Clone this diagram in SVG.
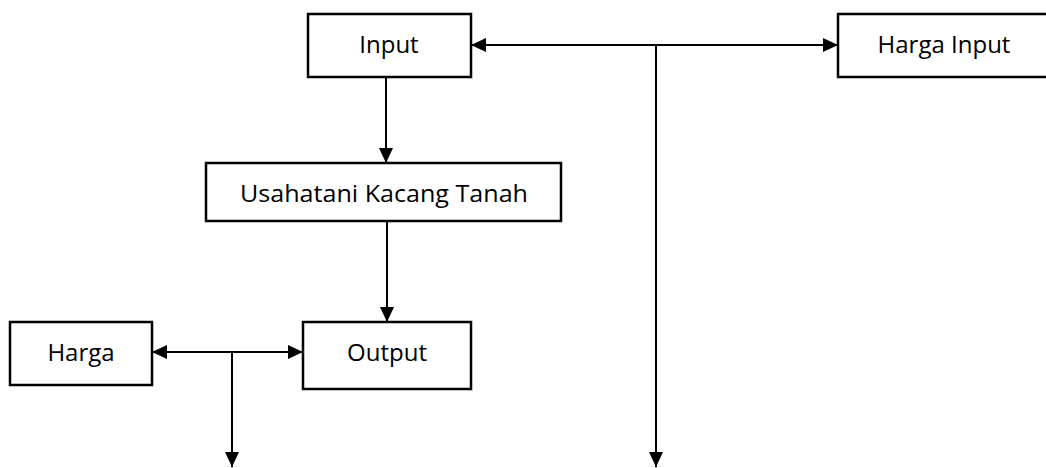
<svg xmlns="http://www.w3.org/2000/svg" width="1046" height="468" viewBox="0 0 1046 468">
<defs>
<marker id="ah" markerUnits="userSpaceOnUse" markerWidth="16" markerHeight="16" viewBox="0 0 16 16" refX="15" refY="8" orient="auto-start-reverse">
<path d="M0,1 L15,8 L0,15 Z" fill="#000"/>
</marker>
<style>
.box{fill:#fff;stroke:#000;stroke-width:2.5}
.lbl{font-family:"Open Sans","Liberation Sans",sans-serif;font-size:24px;fill:#000;text-anchor:middle}
.ln{fill:none;stroke:#000;stroke-width:2}
</style>
</defs>
<g id="connectors">
<line class="ln" x1="471" y1="45" x2="838" y2="45" marker-start="url(#ah)" marker-end="url(#ah)"/>
<line class="ln" x1="656" y1="45" x2="656" y2="467" marker-end="url(#ah)"/>
<line class="ln" x1="386" y1="77" x2="386" y2="163" marker-end="url(#ah)"/>
<line class="ln" x1="387" y1="221" x2="387" y2="322" marker-end="url(#ah)"/>
<line class="ln" x1="152" y1="352" x2="303" y2="352" marker-start="url(#ah)" marker-end="url(#ah)"/>
<line class="ln" x1="232" y1="352" x2="232" y2="467" marker-end="url(#ah)"/>
</g>
<g id="input">
<rect class="box" x="308" y="14" width="163" height="63"/>
<text class="lbl" x="389" y="53">Input</text>
</g>
<g id="harga-input">
<rect class="box" x="838" y="14" width="220" height="63"/>
<text class="lbl" x="944" y="53">Harga Input</text>
</g>
<g id="usahatani">
<rect class="box" x="206" y="163" width="355" height="58"/>
<text class="lbl" x="384" y="202" textLength="288" lengthAdjust="spacingAndGlyphs">Usahatani Kacang Tanah</text>
</g>
<g id="output">
<rect class="box" x="303" y="322" width="168" height="67"/>
<text class="lbl" x="387" y="361">Output</text>
</g>
<g id="harga">
<rect class="box" x="10" y="322" width="142" height="63"/>
<text class="lbl" x="81" y="361">Harga</text>
</g>
</svg>
